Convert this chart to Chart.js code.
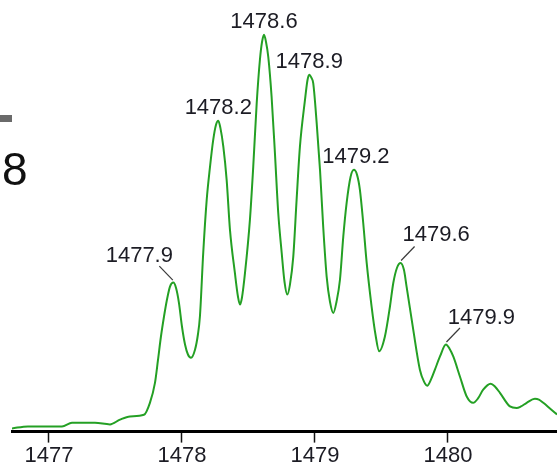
<!DOCTYPE html>
<html>
<head>
<meta charset="utf-8">
<script src="https://cdn.jsdelivr.net/npm/chart.js@4.4.1/dist/chart.umd.min.js"></script>
<style>
  html, body { margin: 0; padding: 0; background: #fff; }
  #wrap { width: 557px; height: 469px; }
</style>
</head>
<body>
<div id="wrap"><canvas id="spec" width="557" height="469"></canvas></div>
<script>
// Isotope envelope profile: m/z against relative intensity (%)
const mz = [
  1476.722, 1476.842, 1477.098, 1477.173, 1477.346, 1477.459, 1477.534, 1477.609,
  1477.714, 1477.759, 1477.797, 1477.820, 1477.842, 1477.865, 1477.887, 1477.910,
  1477.935, 1477.955, 1477.977, 1478.000, 1478.023, 1478.045, 1478.068, 1478.098,
  1478.120, 1478.135, 1478.160, 1478.186, 1478.211, 1478.235, 1478.256, 1478.273,
  1478.289, 1478.311, 1478.336, 1478.361, 1478.398, 1478.421, 1478.436, 1478.451,
  1478.474, 1478.511, 1478.536, 1478.562, 1478.586, 1478.602, 1478.617, 1478.632,
  1478.649, 1478.674, 1478.699, 1478.724, 1478.750, 1478.771, 1478.792, 1478.812,
  1478.837, 1478.862, 1478.887, 1478.925, 1478.944, 1478.957, 1478.974, 1478.987,
  1479.013, 1479.038, 1479.062, 1479.088, 1479.113, 1479.138, 1479.162, 1479.188,
  1479.213, 1479.238, 1479.268, 1479.293, 1479.316, 1479.338, 1479.363, 1479.389,
  1479.426, 1479.455, 1479.483, 1479.526, 1479.564, 1479.589, 1479.617, 1479.644,
  1479.669, 1479.689, 1479.739, 1479.789, 1479.820, 1479.844, 1479.872, 1479.902,
  1479.940, 1479.985, 1480.011, 1480.040, 1480.090, 1480.141, 1480.190, 1480.226,
  1480.265, 1480.321, 1480.353, 1480.391, 1480.466, 1480.517, 1480.549, 1480.592,
  1480.654, 1480.684, 1480.717, 1480.767, 1480.820
];
const intensity = [
  0.8, 1.3, 1.3, 2.2, 2.2, 1.8, 3.0, 3.8,
  4.2, 7.2, 12.2, 18.0, 23.8, 28.8, 33.0, 36.3,
  37.3, 36.0, 32.3, 26.3, 21.8, 19.3, 18.5, 20.5,
  24.3, 28.8, 44.8, 58.0, 66.3, 73.0, 76.8, 77.8,
  76.0, 71.3, 63.0, 50.5, 39.7, 33.8, 31.8, 33.5,
  39.7, 53.0, 66.3, 82.2, 93.0, 97.5, 99.3, 97.5,
  93.8, 83.8, 69.7, 54.7, 44.7, 37.5, 34.3, 36.8,
  43.8, 58.0, 71.3, 83.0, 88.0, 89.3, 88.5, 87.2,
  77.2, 65.5, 51.3, 38.8, 32.5, 29.7, 32.5, 38.0,
  48.8, 57.2, 63.8, 65.5, 64.3, 60.5, 52.2, 42.2,
  31.3, 24.3, 20.1, 23.8, 31.3, 37.2, 41.0, 42.2,
  40.5, 36.3, 25.5, 15.5, 12.5, 11.5, 13.0, 15.5,
  18.8, 21.8, 20.8, 18.8, 13.8, 8.8, 7.2, 8.3,
  10.5, 12.0, 11.3, 9.7, 6.3, 5.9, 6.3, 7.2,
  8.2, 8.0, 7.2, 5.8, 4.3
];

// Centroid m/z of the labelled isotope peaks
const peakMz = [1477.935, 1478.273, 1478.617, 1478.957, 1479.293, 1479.644, 1479.985];

// x-axis tick values
const tickValues = [1477, 1478, 1479, 1480];

// Label placement around each peak (pixels); leader: -1 left, 1 right, 0 none
const labelPlacement = [
  { dx: -34, dy: -20.5, leader: -1 },
  { dx: 0, dy: -6.5, leader: 0 },
  { dx: 0, dy: -6.5, leader: 0 },
  { dx: 0, dy: -6.5, leader: 0 },
  { dx: 2, dy: -6.5, leader: 0 },
  { dx: 35.5, dy: -21.5, leader: 1 },
  { dx: 35.5, dy: -20.5, leader: 1 }
];

const FONT = '"Liberation Sans", Arial, sans-serif';

// Peak m/z shown to one decimal (truncated)
function peakText(v) {
  return (Math.floor(v * 10 + 1e-9) / 10).toFixed(1);
}

const peakLabels = {
  id: 'peakLabels',
  afterDatasetsDraw(chart) {
    const ctx = chart.ctx;
    const xs = chart.scales.x, ys = chart.scales.y;
    ctx.save();
    ctx.font = '22px ' + FONT;
    ctx.fillStyle = '#1c1c24';
    ctx.textAlign = 'center';
    ctx.textBaseline = 'alphabetic';
    peakMz.forEach((v, i) => {
      // anchor on the profile point at this m/z
      let best = 0;
      mz.forEach((m, j) => { if (Math.abs(m - v) < Math.abs(mz[best] - v)) best = j; });
      const px = xs.getPixelForValue(mz[best]);
      const py = ys.getPixelForValue(intensity[best]);
      const p = labelPlacement[i];
      if (p.leader !== 0) {
        ctx.beginPath();
        ctx.strokeStyle = '#3a3a3a';
        ctx.lineWidth = 1.2;
        ctx.moveTo(px + p.leader * 14, py - 16.5);
        ctx.lineTo(px + p.leader * 0.5, py - 2.5);
        ctx.stroke();
      }
      ctx.fillText(peakText(v), px + p.dx, py + p.dy);
    });
    ctx.restore();
  }
};

// Edge of the neighbouring panel at the left margin
const sidePanel = {
  id: 'sidePanel',
  afterDraw(chart) {
    const ctx = chart.ctx;
    ctx.save();
    ctx.fillStyle = '#6a6a6a';
    ctx.fillRect(0, 115, 12, 7);
    ctx.fillStyle = '#111';
    ctx.font = '46px ' + FONT;
    ctx.textAlign = 'left';
    ctx.textBaseline = 'alphabetic';
    ctx.fillText('8', 2, 185);
    ctx.restore();
  }
};

new Chart(document.getElementById('spec'), {
  type: 'line',
  data: {
    datasets: [{
      data: mz.map((m, i) => ({ x: m, y: intensity[i] })),
      borderColor: '#24a024',
      borderWidth: 2,
      pointRadius: 0,
      fill: false,
      cubicInterpolationMode: 'monotone'
    }]
  },
  options: {
    responsive: false,
    animation: false,
    devicePixelRatio: 1,
    layout: { padding: { left: 12, right: 0, top: 32, bottom: 0 } },
    plugins: {
      legend: { display: false },
      tooltip: { enabled: false }
    },
    scales: {
      x: {
        type: 'linear',
        min: 1476.722,
        max: 1480.82,
        afterBuildTicks(scale) { scale.ticks = tickValues.map(v => ({ value: v })); },
        border: { display: true, color: '#000', width: 3 },
        grid: { drawOnChartArea: false, drawTicks: true, tickLength: 11, tickColor: '#111', tickWidth: 1.5 },
        ticks: {
          padding: 0,
          color: '#1c1c24',
          font: { family: FONT, size: 22 },
          maxRotation: 0,
          autoSkip: false,
          callback: v => String(v)
        }
      },
      y: {
        display: false,
        min: 0,
        max: 100
      }
    }
  },
  plugins: [peakLabels, sidePanel]
});
</script>
</body>
</html>
